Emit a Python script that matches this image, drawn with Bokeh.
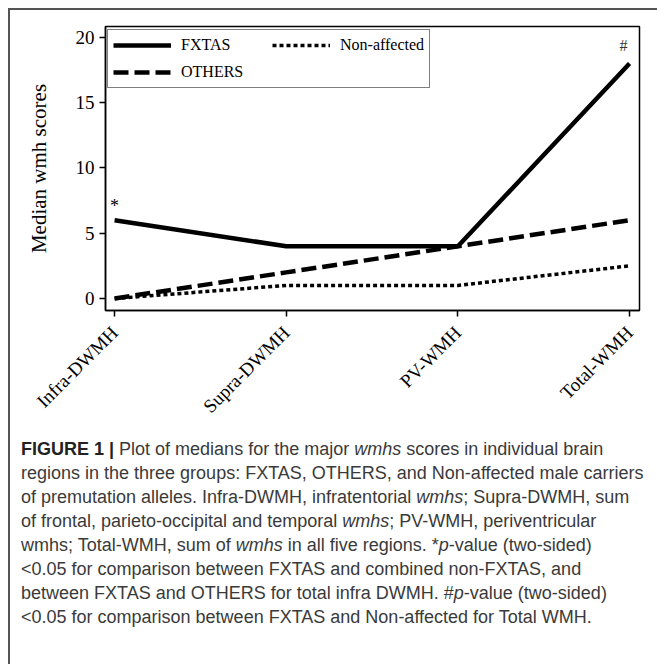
from math import pi
from bokeh.plotting import figure
from bokeh.models import Range1d, FixedTicker, Legend, LegendItem, Label, Div
from bokeh.layouts import column
from bokeh.embed import file_html
from bokeh.resources import INLINE

# ---- data ----
categories = ["Infra-DWMH", "Supra-DWMH", "PV-WMH", "Total-WMH"]
fxtas = [6, 4, 4, 18]
others = [0, 2, 4, 6]
non_affected = [0, 1, 1, 2.5]
y_ticks = [0, 5, 10, 15, 20]
series_names = ["FXTAS", "OTHERS", "Non-affected"]

x = list(range(len(categories)))

SERIF = "Liberation Serif"

p = figure(width=647, height=420, output_backend="svg", toolbar_location=None,
           x_range=Range1d(-0.053, 3.058), y_range=Range1d(-0.92, 20.84),
           min_border_left=95, min_border_right=18, min_border_top=16,
           min_border_bottom=120)
p.background_fill_color = "white"
p.border_fill_color = "white"
p.outline_line_color = "black"
p.outline_line_width = 1.5
p.xgrid.visible = False
p.ygrid.visible = False

r1 = p.line(x, fxtas, line_width=4.5, line_color="black")
r2 = p.line(x, others, line_width=4.5, line_color="black", line_dash="15 6")
r3 = p.line(x, non_affected, line_width=3.5, line_color="black", line_dash="4 3")

# axes
xa = p.xaxis[0]
xa.ticker = FixedTicker(ticks=x)
xa.major_label_overrides = {i: c for i, c in zip(x, categories)}
xa.major_label_orientation = pi / 4
xa.major_label_text_font = SERIF
xa.major_label_text_font_size = "19px"
xa.major_label_text_color = "black"
xa.major_tick_out = 6
xa.major_tick_in = 0
xa.minor_tick_out = 0
xa.minor_tick_in = 0
xa.axis_line_width = 1.5
xa.major_tick_line_width = 1.5
xa.major_label_standoff = 13

ya = p.yaxis[0]
ya.ticker = FixedTicker(ticks=y_ticks)
ya.major_label_text_font = SERIF
ya.major_label_text_font_size = "19px"
ya.major_label_text_color = "black"
ya.major_tick_out = 6
ya.major_tick_in = 0
ya.minor_tick_out = 0
ya.minor_tick_in = 0
ya.axis_line_width = 1.5
ya.major_tick_line_width = 1.5
ya.major_label_standoff = 5
ya.axis_label = "Median wmh scores"
ya.axis_label_text_font = SERIF
ya.axis_label_text_font_size = "21px"
ya.axis_label_text_font_style = "normal"
ya.axis_label_text_color = "black"
ya.axis_label_standoff = 22

legend = Legend(items=[LegendItem(label=series_names[0], renderers=[r1]),
                       LegendItem(label=series_names[1], renderers=[r2]),
                       LegendItem(label=series_names[2], renderers=[r3])],
                location=(2, 222), orientation="vertical", nrows=2,
                label_text_font=SERIF, label_text_font_size="16px",
                label_text_color="black",
                glyph_width=58, glyph_height=20, label_height=20,
                label_width=84, label_standoff=10, spacing=7, padding=5,
                margin=0, border_line_color="black", border_line_width=1.5,
                background_fill_color="white", background_fill_alpha=1.0)
p.add_layout(legend, "center")

p.add_layout(Label(x=x[0], y=7.1, text="*", text_font=SERIF, text_font_size="18px",
                   text_align="center", text_baseline="middle", text_color="black"))
p.add_layout(Label(x=x[-1], y=19.4, x_offset=-6, text="#", text_font=SERIF,
                   text_font_size="16px", text_align="center", text_baseline="middle",
                   text_color="#333333"))

caption = (
    '<b style="font-weight:bold;color:#222">FIGURE 1 |</b> Plot of medians for the major <i>wmhs</i> scores in individual brain<br>'
    'regions in the three groups: FXTAS, OTHERS, and Non-affected male carriers<br>'
    'of premutation alleles. Infra-DWMH, infratentorial <i>wmhs</i>; Supra-DWMH, sum<br>'
    'of frontal, parieto-occipital and temporal <i>wmhs</i>; PV-WMH, periventricular<br>'
    'wmhs; Total-WMH, sum of <i>wmhs</i> in all five regions. *<i>p</i>-value (two-sided)<br>'
    '&lt;0.05 for comparison between FXTAS and combined non-FXTAS, and<br>'
    'between FXTAS and OTHERS for total infra DWMH. #<i>p</i>-value (two-sided)<br>'
    '&lt;0.05 for comparison between FXTAS and Non-affected for Total WMH.'
)
div = Div(text=caption, width=647, height=233,
          styles={"font-family": "Liberation Sans", "font-size": "18px",
                  "line-height": "24px", "color": "#3a3a3a",
                  "white-space": "nowrap", "padding-left": "6px",
                  "padding-top": "2px", "box-sizing": "border-box",
                  "background-color": "white"})

layout = column(p, div, spacing=0,
                styles={"border-top": "2px solid #555555",
                        "border-left": "2px solid #555555",
                        "margin-left": "8px", "margin-top": "8px",
                        "background-color": "white"})

open("out.html", "w").write(file_html(layout, INLINE))
